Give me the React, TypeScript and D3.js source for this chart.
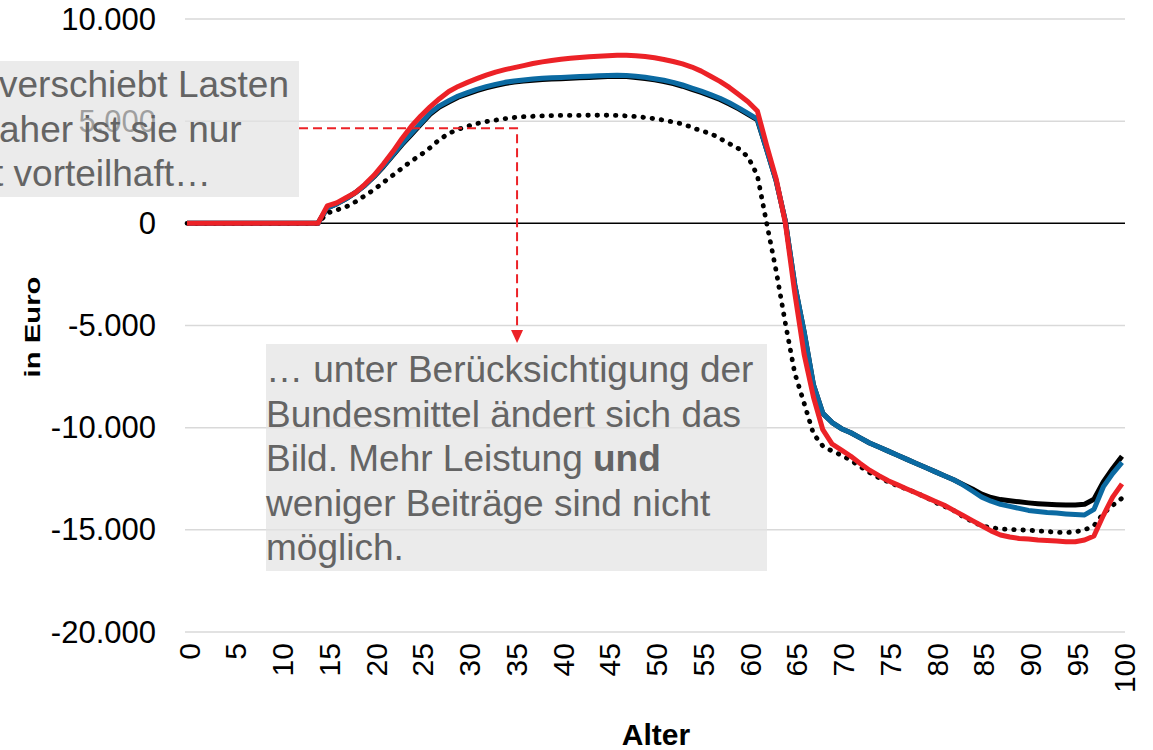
import React from "react";
import * as d3 from "d3";

const ages: number[] = [0,1,2,3,4,5,6,7,8,9,10,11,12,13,14,15,16,17,18,19,20,21,22,23,24,25,26,27,28,29,30,31,32,33,34,35,36,37,38,39,40,41,42,43,44,45,46,47,48,49,50,51,52,53,54,55,56,57,58,59,60,61,62,63,64,65,66,67,68,69,70,71,72,73,74,75,76,77,78,79,80,81,82,83,84,85,86,87,88,89,90,91,92,93,94,95,96,97,98,99,100];

// red line
const seriesRed: number[] = [
  0,0,0,0,0,0,0,0,0,0,0,0,0,0,0,
  850,1000,1250,1500,1900,2350,2900,3500,4150,4750,5250,5700,6100,6450,6700,
  6900,7080,7250,7400,7520,7620,7720,7820,7900,7970,8030,8080,8120,8150,8180,
  8200,8220,8220,8200,8160,8100,8020,7920,7800,7650,7450,7200,6950,6650,6300,
  5950,5500,3800,2200,0,-3400,-6400,-8500,-10100,-10800,-11100,-11400,-11750,-12080,-12350,
  -12600,-12800,-13000,-13200,-13400,-13600,-13800,-14050,-14300,-14550,-14800,-15050,-15250,-15350,-15420,
  -15450,-15500,-15520,-15550,-15580,-15580,-15500,-15300,-14300,-13400,-12750
];

// blue line
const seriesBlue: number[] = [
  0,0,0,0,0,0,0,0,0,0,0,0,0,0,0,
  750,950,1200,1500,1850,2300,2800,3350,3900,4400,4900,5400,5750,6000,6230,
  6400,6560,6690,6800,6900,6970,7020,7060,7100,7120,7140,7160,7180,7200,7220,
  7240,7250,7240,7200,7150,7080,7000,6900,6770,6620,6470,6300,6120,5900,5650,
  5380,5100,3600,2100,100,-3000,-5300,-7900,-9300,-9750,-10050,-10250,-10500,-10750,-10950,
  -11150,-11350,-11550,-11750,-11950,-12150,-12350,-12550,-12800,-13100,-13400,-13600,-13750,-13850,-13950,
  -14050,-14100,-14150,-14180,-14220,-14250,-14270,-14000,-12900,-12250,-11700
];

// black solid line
const seriesBlack: number[] = [
  0,0,0,0,0,0,0,0,0,0,0,0,0,0,0,
  750,950,1200,1500,1850,2280,2770,3310,3850,4350,4850,5340,5690,5940,6170,
  6340,6500,6630,6740,6840,6910,6960,7000,7040,7060,7080,7100,7120,7140,7160,
  7180,7190,7180,7140,7090,7020,6940,6840,6710,6560,6410,6240,6060,5840,5600,
  5330,5060,3600,2100,100,-3000,-5300,-7900,-9300,-9750,-10050,-10250,-10500,-10750,-10950,
  -11150,-11350,-11550,-11750,-11950,-12150,-12350,-12550,-12780,-13000,-13250,-13420,-13520,-13580,-13630,
  -13680,-13720,-13750,-13770,-13780,-13780,-13750,-13500,-12650,-12000,-11400
];

// black dotted line
const seriesDotted: number[] = [
  0,0,0,0,0,0,0,0,0,0,0,0,0,0,0,
  500,650,800,1050,1350,1650,2000,2350,2700,3050,3350,3700,4100,4400,4600,
  4750,4880,4980,5050,5120,5180,5220,5240,5260,5270,5280,5280,5280,5290,5290,
  5290,5280,5260,5230,5180,5120,5050,4960,4860,4700,4520,4400,4150,3900,3650,
  3250,2350,0,-2300,-4900,-7330,-8800,-10300,-10900,-11150,-11350,-11600,-11900,-12200,-12450,
  -12650,-12850,-13000,-13200,-13400,-13650,-13850,-14050,-14350,-14600,-14800,-14900,-14950,-14980,-15000,
  -15020,-15050,-15080,-15120,-15130,-15100,-15000,-14800,-14200,-13800,-13450
];

const yTicks: number[] = [10000, 5000, 0, -5000, -10000, -15000, -20000];
const xTicks: number[] = [0,5,10,15,20,25,30,35,40,45,50,55,60,65,70,75,80,85,90,95,100];

const leftBoxLines: string[] = ["verschiebt Lasten", "aher ist sie nur", "t vorteilhaft…"];
const lowerBoxLines: string[] = [
  "… unter Berücksichtigung der",
  "Bundesmittel ändert sich das",
  "Bild. Mehr Leistung ",
  "weniger Beiträge sind nicht",
  "möglich.",
];

const FONT = "'Liberation Sans', Arial, Helvetica, sans-serif";

const locale = d3.formatLocale({
  decimal: ",",
  thousands: ".",
  grouping: [3],
  currency: ["", "€"],
  minus: "-",
});
const fmt = locale.format(",");

export default function App() {
  const W = 1153;
  const H = 750;
  const x = d3.scaleLinear().domain([0, 100]).range([187, 1122]);
  const y = d3.scaleLinear().domain([-20000, 10000]).range([632, 19]);

  const line = d3
    .line<number>()
    .x((_, i) => x(ages[i]))
    .y((d) => y(d));

  const gridX0 = x(0) - 2;
  const gridX1 = x(100) + 3;

  const textColor = "#646464";
  const red = "#ec2227";
  const blue = "#0b6aa2";

  // annotation anchors (data coords)
  const arrowAge = 35.3;
  const arrowVal = 4650;
  const ax = x(arrowAge);
  const ay = y(arrowVal);
  const lowerTop = 344;

  return (
    <div style={{ position: "absolute", left: 0, top: 0, width: W, height: H, overflow: "hidden", background: "#fff" }}>
      <svg width={W} height={H} style={{ display: "block" }} fontFamily={FONT}>
        {/* gridlines */}
        {yTicks.filter((t) => t !== 0).map((t) => (
          <line key={"g" + t} x1={gridX0} x2={gridX1} y1={y(t)} y2={y(t)} stroke="#d9d9d9" strokeWidth={1.5} />
        ))}
        <line x1={gridX0} x2={gridX1} y1={y(0)} y2={y(0)} stroke="#000" strokeWidth={1.5} />

        {/* y tick labels */}
        {yTicks.map((t) => (
          <text key={"yl" + t} x={156} y={y(t)} textAnchor="end" dominantBaseline="central" fontSize={31} fill="#000">
            {fmt(t)}
          </text>
        ))}

        {/* x tick labels */}
        {xTicks.map((t) => (
          <text
            key={"xl" + t}
            transform={`translate(${x(t) + 2},643) rotate(-90)`}
            textAnchor="end"
            dominantBaseline="central"
            fontSize={30}
            fill="#000"
          >
            {t}
          </text>
        ))}

        {/* axis titles */}
        <text x={656} y={745} textAnchor="middle" fontSize={30} fontWeight="bold" fill="#000">
          Alter
        </text>
        <text
          transform={`translate(40,327) rotate(-90)`}
          textAnchor="middle"
          fontSize={22}
          fontWeight="bold"
          fill="#000"
          textLength={101}
          lengthAdjust="spacingAndGlyphs"
        >
          in Euro
        </text>

        {/* series */}
        <path d={line(seriesBlack) || ""} fill="none" stroke="#000" strokeWidth={5} strokeLinejoin="round" />
        <path d={line(seriesBlue) || ""} fill="none" stroke={blue} strokeWidth={5} strokeLinejoin="round" />
        <path
          d={line(seriesDotted) || ""}
          fill="none"
          stroke="#000"
          strokeWidth={4.8}
          strokeDasharray="0.5 8.7"
          strokeLinecap="round"
          strokeLinejoin="round"
        />
        <path d={line(seriesRed) || ""} fill="none" stroke={red} strokeWidth={5} strokeLinejoin="round" />

        {/* left annotation box */}
        <rect x={-5} y={61} width={304} height={136} fill="#e2e2e2" fillOpacity={0.7} />
        {leftBoxLines.map((s, i) => (
          <text key={"lb" + i} x={i === 2 ? -7 : -1} y={97 + i * 44.5} fontSize={37} fill={textColor}>
            {s}
          </text>
        ))}

        {/* lower annotation box */}
        <rect x={266} y={lowerTop} width={501} height={227} fill="#e2e2e2" fillOpacity={0.7} />
        {lowerBoxLines.map((s, i) => (
          <text key={"lw" + i} x={266} y={382 + i * 44.5} fontSize={37} fill={textColor}>
            {s}
            {i === 2 ? <tspan fontWeight="bold">und</tspan> : null}
          </text>
        ))}

        {/* dashed arrow */}
        <path
          d={`M299,${ay} H${ax} V${lowerTop - 13}`}
          fill="none"
          stroke={red}
          strokeWidth={2}
          strokeDasharray="9 5"
        />
        <path d={`M${ax - 6},${lowerTop - 14} L${ax + 6},${lowerTop - 14} L${ax},${lowerTop - 1} Z`} fill={red} />
      </svg>
    </div>
  );
}
